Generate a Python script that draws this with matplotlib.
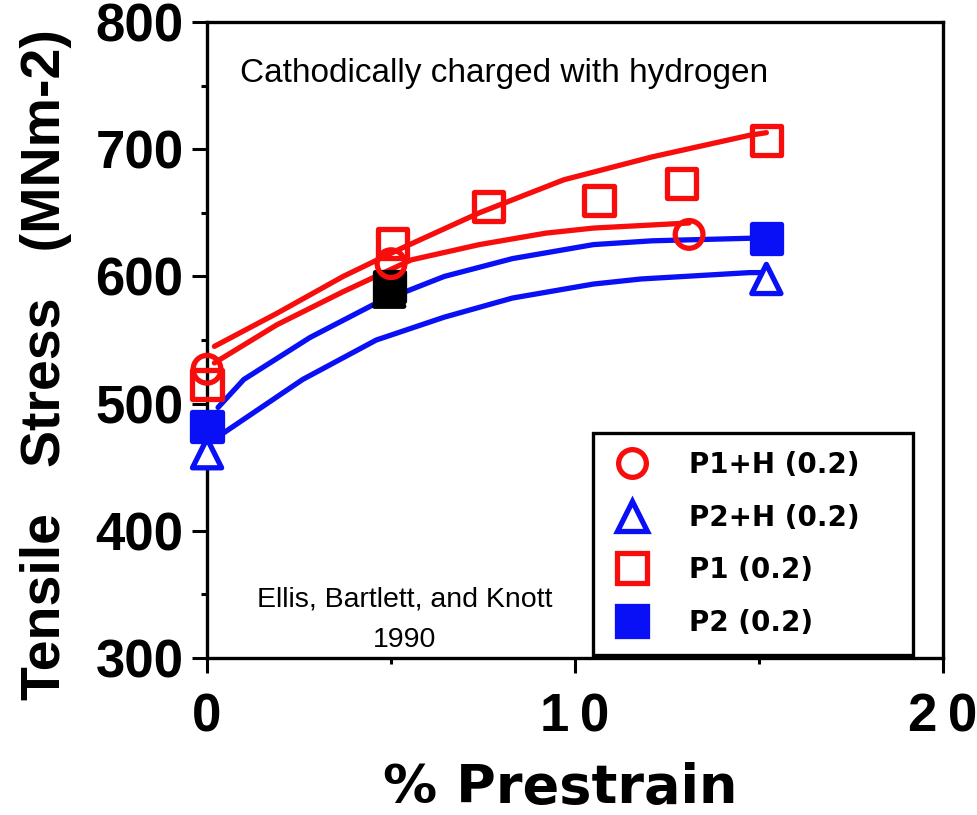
import matplotlib
matplotlib.use("Agg")
import matplotlib.pyplot as plt
from matplotlib.lines import Line2D
from matplotlib.ticker import MultipleLocator, FixedLocator, FixedFormatter

RED = '#f80d0d'
BLUE = '#0a10f5'

# measured points
p1_x = [0.0, 5.05, 7.65, 10.65, 12.9, 15.2]
p1_y = [515, 626, 655, 660, 673, 707]
p1h_x = [0.0, 5.0, 13.1]
p1h_y = [527, 610, 633]
p2_x = [0.0, 4.95, 15.2]
p2_y = [482, 592, 630]
p2_colors = [BLUE, 'black', BLUE]
p2h_x = [0.0, 4.95, 15.2]
p2h_y = [461, 588, 598]
p2h_colors = [BLUE, 'black', BLUE]

# trend curves
p1_fit_x = [0.2, 1.9, 3.7, 5.2, 7.4, 9.7, 12.1, 14.75, 15.2]
p1_fit_y = [545, 571, 600, 621, 650, 676, 694, 711, 713]
p1h_fit_x = [0.2, 1.9, 3.7, 5.55, 7.4, 9.2, 10.5, 11.8, 13.1]
p1h_fit_y = [532, 562, 588, 613, 625, 634, 638, 640, 642]
p2_fit_x = [0.3, 1.0, 2.8, 4.6, 6.45, 8.3, 10.5, 12.1, 14.75, 15.2]
p2_fit_y = [497, 519, 552, 579, 600, 614, 625, 628, 630, 631]
p2h_fit_x = [0.35, 2.6, 4.6, 6.45, 8.3, 10.5, 11.8, 14.75, 15.2]
p2h_fit_y = [475, 519, 550, 568, 583, 594, 598, 603, 603]

x_ticks = [0, 10, 20]
x_tick_labels = ['0', '1\u20090', '2\u20090']
y_ticks = [300, 400, 500, 600, 700, 800]

legend_labels = ['P1+H (0.2)', 'P2+H (0.2)', 'P1 (0.2)', 'P2 (0.2)']

fig = plt.figure(figsize=(9.77, 8.15), dpi=100)
ax = fig.add_axes([0.2119, 0.1926, 0.7533, 0.7804])

LW = 3.8
MS = 21
MEW = 3.8

ax.plot(p1_fit_x, p1_fit_y, color=RED, lw=LW, zorder=2, solid_capstyle='round')
ax.plot(p1h_fit_x, p1h_fit_y, color=RED, lw=LW, zorder=2, solid_capstyle='round')
ax.plot(p2_fit_x, p2_fit_y, color=BLUE, lw=LW, zorder=2, solid_capstyle='round')
ax.plot(p2h_fit_x, p2h_fit_y, color=BLUE, lw=LW, zorder=2, solid_capstyle='round')

ax.scatter(p2h_x, p2h_y, s=MS**2, marker='^', facecolors='white',
           edgecolors=p2h_colors, linewidths=MEW, zorder=3, clip_on=False)
ax.scatter(p2_x, p2_y, s=MS**2, marker='s', facecolors=p2_colors,
           edgecolors=p2_colors, linewidths=MEW, zorder=3, clip_on=False)
ax.scatter(p1h_x, p1h_y, s=(MS * 0.95)**2, marker='o', facecolors='none',
           edgecolors=RED, linewidths=MEW, zorder=3, clip_on=False)
ax.scatter(p1_x, p1_y, s=MS**2, marker='s', facecolors='none',
           edgecolors=RED, linewidths=MEW, zorder=3, clip_on=False)

ax.set_xlim(0, 20)
ax.set_ylim(300, 800)

ax.xaxis.set_major_locator(FixedLocator(x_ticks))
ax.xaxis.set_major_formatter(FixedFormatter(x_tick_labels))
ax.xaxis.set_minor_locator(MultipleLocator(5))
ax.yaxis.set_major_locator(FixedLocator(y_ticks))
ax.yaxis.set_minor_locator(MultipleLocator(50))

for lab in ax.get_xticklabels() + ax.get_yticklabels():
    lab.set_fontfamily(['Liberation Sans', 'DejaVu Sans'])
    lab.set_fontweight('bold')
    lab.set_fontsize(38)

ax.tick_params(axis='both', which='major', direction='out', length=11, width=2.2)
ax.tick_params(axis='both', which='minor', direction='out', length=4, width=2.2)
ax.tick_params(axis='x', which='major', pad=14)
ax.tick_params(axis='y', which='major', pad=6)

for sp in ax.spines.values():
    sp.set_linewidth(2.4)
    sp.set_color('black')

ax.set_ylabel('Tensile   Stress   (MNm-2)', fontfamily='Liberation Sans',
              fontweight='bold', fontsize=40)
ax.yaxis.set_label_coords(-0.183, 0.462)
ax.set_xlabel('% Prestrain', fontfamily='DejaVu Sans', fontweight='bold', fontsize=39)
ax.xaxis.set_label_coords(0.48, -0.163)

ax.text(0.045, 0.906, 'Cathodically charged with hydrogen', transform=ax.transAxes,
        fontfamily='Liberation Sans', fontsize=24, ha='left', va='baseline')
ax.text(0.269, 0.0805, 'Ellis, Bartlett, and Knott', transform=ax.transAxes,
        fontfamily='Liberation Sans', fontsize=20.5, ha='center', va='baseline')
ax.text(0.269, 0.0175, '1990', transform=ax.transAxes,
        fontfamily='Liberation Sans', fontsize=20.5, ha='center', va='baseline')

handles = [
    Line2D([], [], ls='none', marker='o', ms=MS * 0.95, mfc='white', mec=RED, mew=MEW),
    Line2D([], [], ls='none', marker='^', ms=MS, mfc='white', mec=BLUE, mew=MEW),
    Line2D([], [], ls='none', marker='s', ms=MS, mfc='white', mec=RED, mew=MEW),
    Line2D([], [], ls='none', marker='s', ms=MS, mfc=BLUE, mec=BLUE, mew=MEW),
]
leg = ax.legend(handles, legend_labels, loc='lower left',
                bbox_to_anchor=(0.524, 0.005, 0.435, 0.38), mode='expand',
                borderaxespad=0, borderpad=0.66, labelspacing=0.88,
                handlelength=1.54, handletextpad=1.27, fancybox=False,
                framealpha=1, edgecolor='black',
                prop={'family': 'DejaVu Sans', 'weight': 'bold', 'size': 20})
leg.get_frame().set_linewidth(2.4)

fig.savefig('out.png', dpi=100, facecolor='white')
